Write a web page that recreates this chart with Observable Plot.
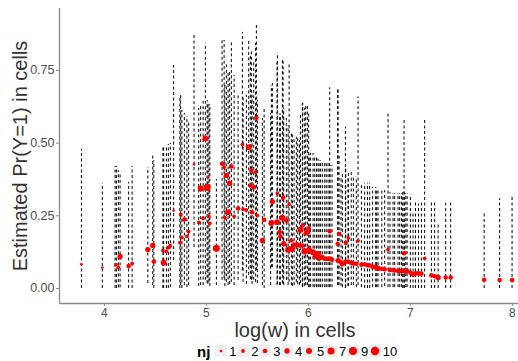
<!DOCTYPE html>
<html><head><meta charset="utf-8">
<script src="https://cdn.jsdelivr.net/npm/d3@7"></script>
<script src="https://cdn.jsdelivr.net/npm/@observablehq/plot@0.6"></script>
<style>
html,body{margin:0;padding:0;background:#fff;overflow:hidden;}
body{font-family:"Liberation Sans",Arial,sans-serif;width:518px;height:361px;}
#legend{display:flex;align-items:center;height:20px;padding-left:197px;font-size:13px;color:#000;}
#legend .title{font-weight:bold;font-size:15px;margin-right:5px;}
#legend .item{display:flex;align-items:center;margin-right:0.7px;}
#legend .key{width:12px;height:12px;display:block;}
#legend .lab{margin-left:2px;}
</style></head><body>
<div id="chart"></div><div id="legend"></div>
<script>
const logw = [3.775,3.980,4.105,4.118,4.137,4.154,4.238,4.272,4.426,4.474,4.485,4.574,4.581,4.608,4.627,4.647,4.679,4.740,4.748,4.760,4.784,4.809,4.826,4.879,4.925,4.944,4.968,4.990,5.007,5.015,5.025,5.034,5.098,5.154,5.174,5.181,5.196,5.213,5.228,5.245,5.272,5.311,5.353,5.360,5.392,5.415,5.431,5.441,5.448,5.464,5.483,5.490,5.500,5.549,5.566,5.630,5.637,5.647,5.693,5.696,5.719,5.725,5.745,5.752,5.758,5.784,5.801,5.811,5.833,5.843,5.860,5.882,5.895,5.912,5.922,5.941,5.945,5.964,5.974,5.990,6.003,6.007,6.020,6.046,6.062,6.080,6.095,6.105,6.120,6.137,6.160,6.175,6.193,6.209,6.212,6.232,6.287,6.291,6.301,6.320,6.333,6.363,6.366,6.389,6.392,6.420,6.441,6.470,6.487,6.520,6.552,6.580,6.601,6.630,6.660,6.670,6.683,6.720,6.748,6.781,6.800,6.830,6.846,6.879,6.895,6.912,6.925,6.938,6.940,6.955,6.968,7.000,7.026,7.050,7.080,7.108,7.140,7.206,7.238,7.272,7.346,7.395,7.723,7.875,7.997];
const prob = [.083,.072,.079,.083,.073,.110,.077,.086,.134,.148,.093,.131,.089,.128,.141,.148,.268,.158,.255,.175,.237,.179,.196,.427,.227,.344,.241,.516,.347,.383,.248,.224,.138,.429,.417,.244,.389,.262,.362,.420,.248,.275,.495,.272,.270,.486,.354,.406,.262,.348,.400,.587,.251,.165,.236,.223,.225,.299,.228,.328,.194,.179,.243,.312,.154,.234,.133,.289,.165,.137,.150,.151,.150,.148,.202,.148,.217,.128,.190,.194,.207,.137,.130,.125,.110,.115,.119,.102,.105,.108,.102,.102,.102,.197,.102,.099,.154,.096,.188,.090,.085,.092,.157,.093,.174,.088,.086,.085,.164,.082,.083,.080,.079,.075,.073,.072,.069,.068,.066,.134,.064,.063,.062,.060,.060,.060,.060,.121,.060,.060,.060,.054,.049,.052,.052,.051,.104,.045,.042,.038,.038,.038,.030,.029,.029];
const lower = [0,0,0,0,.002,.002,0,0,.017,.010,0,0,0,0,0,.003,.096,0,.010,0,.010,.003,.010,.141,.007,.010,.010,.028,.017,.014,.021,.007,.010,.028,.034,.007,.021,.010,.014,.021,.010,.028,.062,.021,.014,.045,.031,.028,.014,.028,.021,.062,.017,.010,0,.010,.072,.072,.010,.014,.010,.010,.017,.014,.010,.028,.010,.021,.010,.007,.010,.021,.014,.010,.017,.003,.007,.007,.010,.010,.003,.003,.003,.003,.003,.003,.003,.003,.003,.003,.003,.003,.003,.003,.003,.003,.010,.010,.010,.007,.003,0,.003,.007,.007,.010,.010,.003,.010,.003,0,0,0,.003,.003,.003,.003,.003,.007,.003,.003,.003,.003,.003,.003,.003,0,0,0,.003,.003,0,0,0,0,0,0,0,0,0,0,0,0,0,0];
const upper = [.478,.361,.420,.420,.406,.400,.365,.420,.416,.464,.440,.485,.485,.492,.495,.499,.767,.660,.667,.612,.602,.592,.578,.870,.619,.630,.643,.843,.647,.640,.633,.633,.375,.860,.853,.700,.774,.743,.750,.853,.733,.671,.881,.664,.664,.853,.802,.819,.664,.784,.843,.912,.647,.585,.623,.602,.698,.705,.780,.809,.600,.600,.788,.788,.620,.585,.560,.778,.533,.530,.520,.520,.515,.509,.600,.637,.637,.620,.626,.626,.600,.460,.465,.464,.455,.450,.445,.440,.440,.433,.433,.430,.430,.690,.423,.423,.687,.687,.460,.380,.400,.555,.420,.383,.400,.400,.383,.383,.659,.362,.362,.362,.362,.347,.347,.344,.344,.340,.337,.606,.330,.327,.327,.327,.327,.327,.330,.586,.340,.327,.327,.316,.261,.300,.290,.303,.578,.300,.300,.224,.293,.293,.263,.309,.316];
const nj = [1,1,1,1,2,4,3,2,4,4,3,2,5,2,2,2,1,2,2,2,3,2,2,1,2,5,2,5,7,1,2,2,7,3,2,2,4,5,4,3,2,3,2,2,2,5,3,3,3,3,2,3,2,4,3,2,5,4,5,2,3,3,5,3,4,3,5,2,3,5,3,3,3,3,5,3,3,6,3,5,3,3,3,5,3,3,5,3,3,3,3,3,3,3,3,3,3,4,3,3,4,3,3,3,2,3,3,3,2,3,3,3,3,3,4,3,4,3,3,2,3,3,3,3,3,3,3,3,4,3,3,3,4,3,3,3,2,3,3,4,3,3,3,3,3];
const legendValues = [1,2,3,4,5,7,9,10];
const xTicks = [4,5,6,7,8];
const yTicks = [0,0.25,0.5,0.75];
const xDomain = [3.56, 8.06];
const yDomain = [-0.0516, 0.963];
const xTitle = "log(w) in cells";
const yTitle = "Estimated Pr(Y=1) in cells";
const legendTitle = "nj";

const rows = logw.map((x,i)=>({x, p:prob[i], lo:lower[i], hi:upper[i], n:nj[i]}));
const font = '"Liberation Sans", Arial, sans-serif';
const chart = Plot.plot({
  width:518, height:341, marginLeft:59, marginTop:8, marginBottom:38, marginRight:0,
  style:{fontFamily:font, background:"#fff", overflow:"visible"},
  x:{domain:xDomain}, y:{domain:yDomain},
  r:{domain:[0,10], range:[0,4.2]},
  marks:[
    Plot.ruleX(rows,{x:"x", y1:"lo", y2:"hi", stroke:"#000", strokeWidth:1, strokeDasharray:"3,2.5"}),
    Plot.dot(rows,{x:"x", y:"p", r:"n", fill:"#ff0000", stroke:"none"}),
    Plot.ruleX([xDomain[0]],{stroke:"#8a8a8a", strokeWidth:1.3}),
    Plot.ruleY([yDomain[0]],{stroke:"#8a8a8a", strokeWidth:1.3}),
    Plot.axisX({ticks:xTicks, tickFormat:d=>String(d), tickSize:3, tickPadding:1.5, fontSize:12, stroke:"#8a8a8a", fill:"#4d4d4d", label:null}),
    Plot.axisY({ticks:yTicks, tickFormat:d3.format(".2f"), tickSize:3, tickPadding:2, fontSize:12.5, stroke:"#8a8a8a", fill:"#4d4d4d", label:null}),
    Plot.text([xTitle],{text:d=>d, frameAnchor:"bottom", dy:27.5, dx:6, fontSize:20, fill:"#333", lineAnchor:"middle", textAnchor:"middle"}),
    Plot.text([yTitle],{text:d=>d, frameAnchor:"left", dx:-39, rotate:-90, fontSize:20, fill:"#333", lineAnchor:"middle", textAnchor:"middle"})
  ]
});
document.getElementById("chart").appendChild(chart);

const rs = chart.scale("r");
const lg = document.getElementById("legend");
const t = document.createElement("span"); t.className="title"; t.textContent=legendTitle; lg.appendChild(t);
for (const v of legendValues) {
  const it = document.createElement("span"); it.className="item";
  const r = rs.apply(v);
  it.innerHTML = `<svg class="key" width="12" height="12"><rect width="12" height="12" fill="#efefef"/><circle cx="6" cy="6" r="${r}" fill="#ff0000"/></svg><span class="lab">${v}</span>`;
  lg.appendChild(it);
}
</script></body></html>
